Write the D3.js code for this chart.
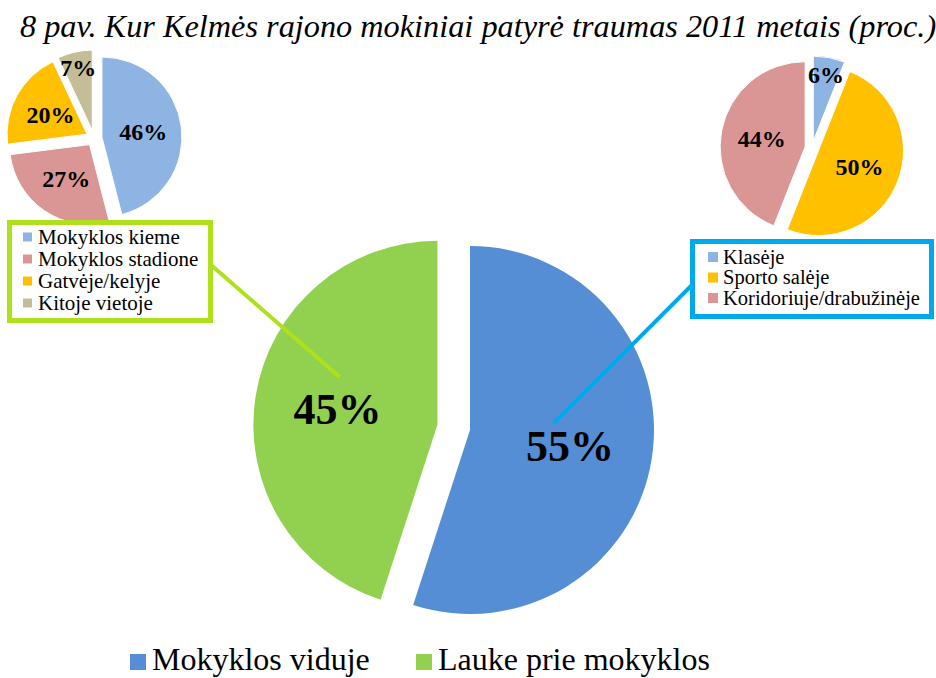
<!DOCTYPE html>
<html>
<head>
<meta charset="utf-8">
<script src="https://cdn.jsdelivr.net/npm/d3@7"></script>
<style>
  html, body { margin: 0; padding: 0; background: #ffffff; }
  svg { display: block; }
  text { font-family: "Liberation Serif", "Times New Roman", serif; fill: #000; }
</style>
</head>
<body>
<div id="chart"></div>
<script>
// ---------- data ----------
const title = "8 pav. Kur Kelmės rajono mokiniai patyrė traumas 2011 metais (proc.)";

const mainCategories = ["Mokyklos viduje", "Lauke prie mokyklos"];
const mainValues = [55, 45];
const mainColors = ["#558ed5", "#92d050"];

const outsideCategories = ["Mokyklos kieme", "Mokyklos stadione", "Gatvėje/kelyje", "Kitoje vietoje"];
const outsideValues = [46, 27, 20, 7];
const outsideColors = ["#8eb4e3", "#d99694", "#ffc000", "#c4bd97"];

const insideCategories = ["Klasėje", "Sporto salėje", "Koridoriuje/drabužinėje"];
const insideValues = [6, 50, 44];
const insideColors = ["#8eb4e3", "#ffc000", "#d99694"];

// ---------- setup ----------
const W = 936, H = 678;
const svg = d3.select("#chart").append("svg").attr("width", W).attr("height", H)
  .attr("font-family", "'Liberation Serif', 'Times New Roman', serif");

svg.append("text")
  .attr("x", 20).attr("y", 37)
  .attr("font-size", 32.3).attr("font-style", "italic")
  .text(title);

const pie = d3.pie().sort(null).value(d => d);

function drawPie(g, values, colors, opts) {
  const arcs = pie(values);
  const arc = d3.arc().innerRadius(0).outerRadius(opts.r);
  const mid = a => (a.startAngle + a.endAngle) / 2;
  const offset = (a, i) => {
    const e = opts.explode[i];
    const m = mid(a);
    return [Math.sin(m) * e, -Math.cos(m) * e];
  };
  const slices = g.selectAll("g.slice").data(arcs).enter().append("g")
    .attr("class", "slice")
    .attr("transform", (a, i) => { const o = offset(a, i); return `translate(${o[0]},${o[1]})`; });
  slices.append("path")
    .attr("d", arc)
    .attr("fill", (a, i) => colors[i])
    .attr("stroke", opts.stroke || "none")
    .attr("stroke-width", opts.strokeWidth || 0);
  const labelPos = [];
  slices.each(function (a, i) {
    const m = mid(a);
    const span = a.endAngle - a.startAngle;
    const k = span < 0.5 ? opts.smallK : opts.k;
    const lr = opts.r * k;
    const o = offset(a, i);
    const x = Math.sin(m) * lr, y = -Math.cos(m) * lr;
    labelPos.push([opts.cx + o[0] + x, opts.cy + o[1] + y]);
    d3.select(this).append("text")
      .attr("x", x).attr("y", y).attr("dy", "0.35em")
      .attr("text-anchor", "middle")
      .attr("font-size", opts.fontSize).attr("font-weight", "bold")
      .text(d3.format(".0f")(a.data) + "%");
  });
  return labelPos;
}

// small pies
const gLeft = svg.append("g").attr("transform", "translate(94,138)");
drawPie(gLeft, outsideValues, outsideColors,
  { cx: 94, cy: 138, r: 80, explode: outsideValues.map(() => 8), k: 0.52, smallK: 0.8, fontSize: 24, stroke: "#fff", strokeWidth: 1 });

const gRight = svg.append("g").attr("transform", "translate(812,148)");
drawPie(gRight, insideValues, insideColors,
  { cx: 812, cy: 148, r: 85, explode: insideValues.map(() => 7), k: 0.52, smallK: 0.8, fontSize: 24, stroke: "#fff", strokeWidth: 1 });

// legend boxes
function legendBox(x, y, w, h, color, cats, cols, opts) {
  const g = svg.append("g");
  g.append("rect").attr("x", x).attr("y", y).attr("width", w).attr("height", h)
    .attr("fill", "#fff").attr("stroke", color).attr("stroke-width", 5);
  cats.forEach((c, i) => {
    const cy = opts.y0 + i * opts.step;
    g.append("rect").attr("x", opts.sx).attr("y", cy - opts.ss / 2)
      .attr("width", opts.ss).attr("height", opts.ss).attr("fill", cols[i]);
    g.append("text").attr("x", opts.tx).attr("y", cy).attr("dy", "0.33em")
      .attr("font-size", opts.fs).text(c);
  });
}
const lime = "#aee11c", cyan = "#00a9ec";
legendBox(9.5, 222.5, 201, 98, lime, outsideCategories, outsideColors,
  { y0: 237, step: 22, sx: 23, ss: 9, tx: 38, fs: 21 });
legendBox(692.5, 241.5, 239, 75, cyan, insideCategories, insideColors,
  { y0: 257, step: 20.5, sx: 708, ss: 10, tx: 723, fs: 20.5 });

// main pie
const gMain = svg.append("g").attr("transform", "translate(470,430)");
const mainLabels = drawPie(gMain, mainValues, mainColors,
  { cx: 470, cy: 430, r: 184, explode: [0, 33], k: 0.55, smallK: 0.55, fontSize: 44 });

// leader lines from legend boxes to the main labels
svg.append("line")
  .attr("x1", 211).attr("y1", 265)
  .attr("x2", mainLabels[1][0] + 1).attr("y2", mainLabels[1][1] - 33)
  .attr("stroke", lime).attr("stroke-width", 4).attr("stroke-linecap", "round");
svg.append("line")
  .attr("x1", 692).attr("y1", 285)
  .attr("x2", mainLabels[0][0] - 15).attr("y2", mainLabels[0][1] - 24)
  .attr("stroke", cyan).attr("stroke-width", 4).attr("stroke-linecap", "round");

// bottom legend
const legendX = [130, 416];
mainCategories.forEach((c, i) => {
  svg.append("rect").attr("x", legendX[i]).attr("y", 654).attr("width", 16).attr("height", 16)
    .attr("fill", mainColors[i]);
  svg.append("text").attr("x", legendX[i] + 22).attr("y", 670)
    .attr("font-size", 32).text(c);
});
</script>
</body>
</html>
